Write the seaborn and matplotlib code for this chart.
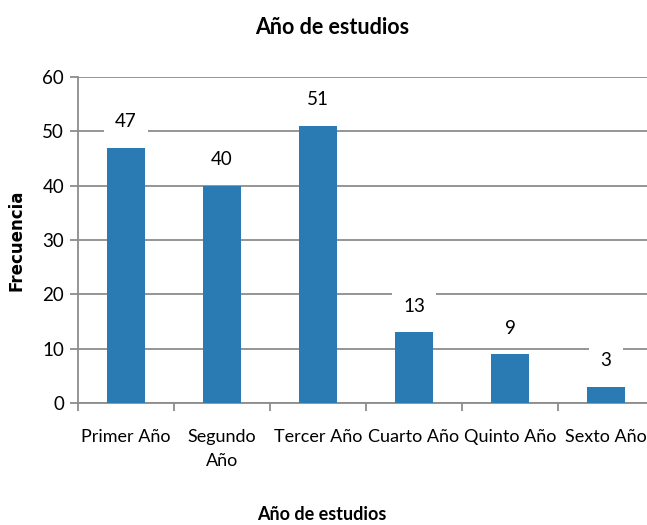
import matplotlib
matplotlib.use("Agg")
import matplotlib.pyplot as plt
import seaborn as sns
import pandas as pd
import numpy as np

categories = ["Primer Año", "Segundo\nAño", "Tercer Año", "Cuarto Año", "Quinto Año", "Sexto Año"]
values = [47, 40, 51, 13, 9, 3]
yticks = [0, 10, 20, 30, 40, 50, 60]

sns.set_theme(style="white")
plt.rcParams['font.family'] = ['Lato', 'DejaVu Sans']
for k in ["text.color", "axes.labelcolor", "xtick.color", "ytick.color"]:
    plt.rcParams[k] = "black"

df = pd.DataFrame({"cat": categories, "val": values})

fig = plt.figure(figsize=(6.47, 5.25), dpi=100)
ax = fig.add_axes([78/647, 1 - 403/525, 576/647, 326/525])

sns.barplot(data=df, x="cat", y="val", color="#2A7BB4", width=0.4, ax=ax, zorder=3,
            saturation=1, linewidth=0)

ax.set_ylim(0, 60)
ax.set_xlim(-0.5, len(categories) - 0.5)
ax.set_yticks(yticks)
ax.yaxis.grid(True, color="#8c8c8c", linewidth=1.3, zorder=0)
ax.set_axisbelow(True)

for s in ["top", "right"]:
    ax.spines[s].set_visible(False)
for s in ["left", "bottom"]:
    ax.spines[s].set_color("#8c8c8c")
    ax.spines[s].set_linewidth(1.3)

ax.tick_params(axis="y", which="both", left=True, length=6, width=1.3, color="#8c8c8c",
               labelsize=13.5, pad=4)
ax.tick_params(axis="x", bottom=False, labelsize=13, pad=13)
for lbl in ax.get_xticklabels():
    lbl.set_linespacing(1.6)
    lbl.set_va("top")
ax.set_xticks(np.arange(-0.5, len(categories) + 0.5, 1), minor=True)
ax.tick_params(axis="x", which="minor", bottom=True, length=6, width=1.3, color="#8c8c8c",
               direction="out")

for i, v in enumerate(values):
    ax.text(i, v + 4.8, str(v), ha="center", va="center", fontsize=13.5, zorder=4,
            bbox=dict(facecolor="white", edgecolor="none", boxstyle="square,pad=0.6"))

ax.set_ylabel("Frecuencia", fontsize=12, fontweight="bold", family=["DejaVu Sans"], labelpad=12)
ax.set_xlabel("Año de estudios", fontsize=13, fontweight="bold", va="center")
ax.xaxis.set_label_coords((321.5 - 78) / 576, -(515 - 403) / 326)
fig.text(332/647, 1 - 28/525, "Año de estudios", ha="center", va="center",
         fontsize=15.5, fontweight="bold")

fig.savefig("out.png", dpi=100)
